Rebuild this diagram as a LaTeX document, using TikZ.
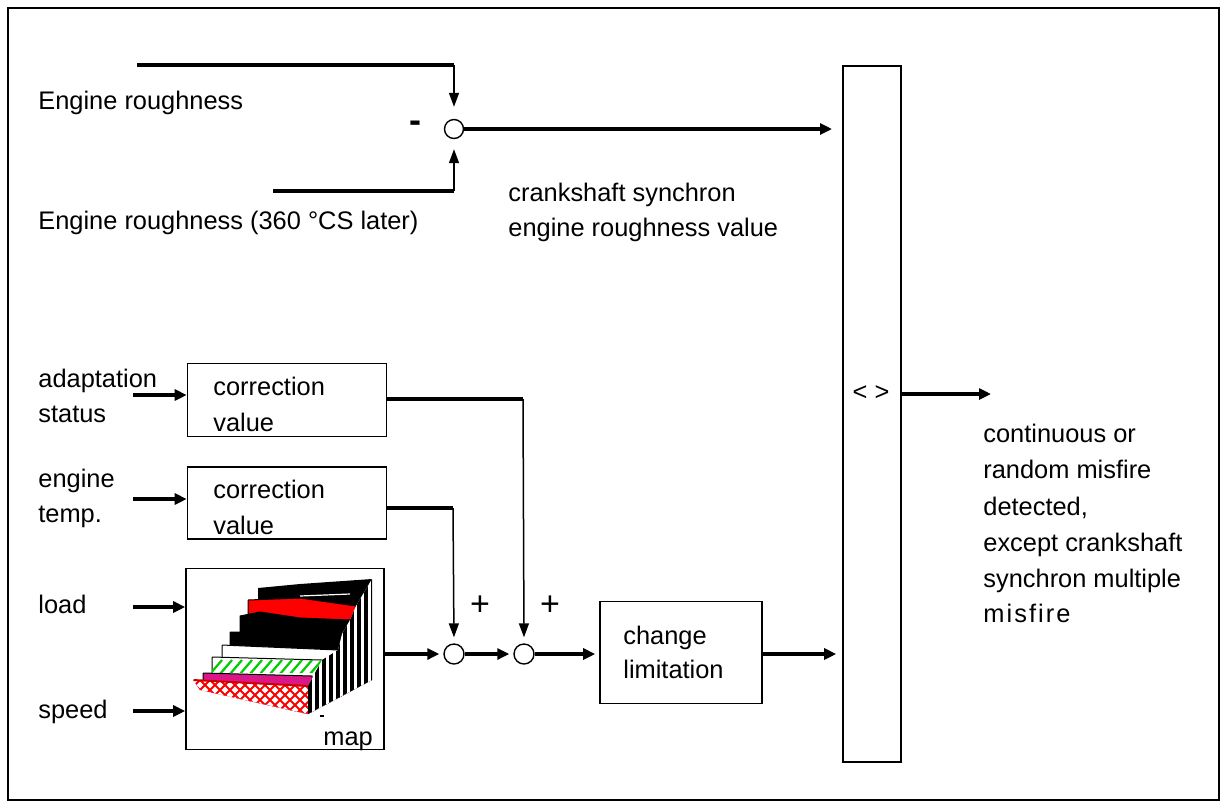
\documentclass[tikz,border=0pt]{standalone}
\usepackage{fontspec}
\setmainfont{Liberation Sans}
\newfontfamily\widefont[LetterSpace=8]{Liberation Sans}
\usetikzlibrary{arrows.meta}
\begin{document}
\begin{tikzpicture}[x=0.5pt,y=-0.5pt,
  txt/.style={anchor=base west,inner sep=0pt,font=\fontsize{12.7}{15}\selectfont},
  ctxt/.style={anchor=base,inner sep=0pt,font=\fontsize{12.7}{15}\selectfont},
  sign/.style={anchor=base,inner sep=0pt,font=\fontsize{17}{20}\selectfont},
  box/.style={draw,line width=0.8pt,inner sep=0pt},
  sumnode/.style={draw,circle,line width=0.7pt,minimum size=9.5pt,inner sep=0pt},
  heavy/.style={line width=2pt},
  light/.style={line width=0.75pt},
  heavyarr/.style={line width=2pt,-{Triangle[length=6pt,width=5.5pt]}},
  lightarr/.style={line width=0.75pt,-{Triangle[length=7pt,width=5pt]}},
  card/.style={draw=black,line width=0.5pt},
]
\useasboundingbox (0,0) rectangle (1230,810);
\draw[line width=0.8pt] (8,8) rectangle (1219,800);

% ---------- top part ----------
\node[sumnode] (s1) at (454,129) {};
\coordinate (ta) at (137,65);
\coordinate (tb) at (454,65);
\coordinate (ba) at (273,191);
\coordinate (bb) at (454,191);
\draw[heavy] (ta) -- (tb);
\draw[heavy] (ba) -- (bb);
\draw[lightarr,shorten >=6pt] (tb) -- (s1.north);
\draw[lightarr,shorten >=5pt] (bb) -- (s1.south);
\node[sign,font=\fontsize{18}{20}\selectfont\bfseries] (minus) at (415,132) {-};
\coordinate (s1out) at (832,129);
\draw[heavyarr] (s1.east) -- (s1out);

\node[txt] (er1) at (38,109) {Engine roughness};
\node[txt] (er2) at (38,229) {Engine roughness (360 °CS later)};
\node[txt] (cs1) at (508,201) {crankshaft synchron};
\node[txt] (cs2) at (508,236) {engine roughness value};

% ---------- comparator ----------
\node[box,minimum width=29pt,minimum height=348pt] (T) at (872,414) {};
\node[ctxt] (cmp) at (871,400) {< >};
\coordinate (tout) at (991,394);
\draw[heavyarr] (T.east |- tout) -- (tout);

\node[txt] (o1) at (983,442) {continuous or};
\node[txt] (o2) at (983,478) {random misfire};
\node[txt] (o3) at (983,515) {detected,};
\node[txt] (o4) at (983,551) {except crankshaft};
\node[txt] (o5) at (983,587) {synchron multiple};
\node[txt,font=\fontsize{12.7}{15}\widefont] (o6) at (983,622) {misfire};

% ---------- correction boxes ----------
\node[box,minimum width=99.5pt,minimum height=36.5pt] (c1) at (287,400) {};
\node[box,minimum width=99.5pt,minimum height=36pt] (c2) at (287,503) {};
\node[txt] (c1a) at (213,395) {correction};
\node[txt] (c1b) at (213,431) {value};
\node[txt] (c2a) at (213,498) {correction};
\node[txt] (c2b) at (213,534) {value};

\node[txt] (in1a) at (38,387) {adaptation};
\node[txt] (in1b) at (38,422) {status};
\node[txt] (in2a) at (38,487) {engine};
\node[txt] (in2b) at (38,522) {temp.};
\node[txt] (in3) at (38,613) {load};
\node[txt] (in4) at (38,718) {speed};

\coordinate (i1) at (133,395);
\coordinate (i2) at (133,499);
\coordinate (i3) at (133,607);
\coordinate (i4) at (133,711);
\draw[heavyarr] (i1) -- (c1.west |- i1);
\draw[heavyarr] (i2) -- (c2.west |- i2);

% ---------- map ----------
\node[box,minimum width=99pt,minimum height=90.5pt] (map) at (285,659) {};
\draw[heavyarr] (i3) -- (map.west |- i3);
\draw[heavyarr] (i4) -- (map.west |- i4);
\node[txt] (maplbl) at (323,745) {map};

\begin{scope}
  \clip (193,680) -- (203,673) -- (212,657) -- (222,645) -- (230,632) -- (240,615)
        -- (248,600) -- (258,588) -- (300,584) -- (372,579) -- (372,680)
        -- (308,714) -- (200,690) -- cycle;
  % cards from back to front
  \fill[black] (258,588) -- (290,584) -- (300,582) -- (372,579) -- (372,720) -- (258,720) -- cycle;
  \draw[white,line width=0.6pt] (300,596) -- (350,594);
  \filldraw[fill=red,card] (248,600) -- (300,598) -- (356,606) -- (356,720) -- (248,720) -- cycle;
  \filldraw[fill=black,card] (240,616) -- (260,612) -- (300,618) -- (350,620) -- (350,720) -- (240,720) -- cycle;
  \filldraw[fill=black,card] (230,632) -- (342,634) -- (342,720) -- (230,720) -- cycle;
  \filldraw[fill=white,card] (222,645) -- (338,650) -- (338,720) -- (222,720) -- cycle;
  \filldraw[fill=white,card] (212,657) -- (322,660) -- (322,720) -- (212,720) -- cycle;
  \begin{scope}
    \clip (212,657) -- (322,660) -- (322,673) -- (212,673) -- cycle;
    \foreach \xs in {200,210,...,330} \draw[green!80!black,line width=1.1pt] (\xs,674) -- ++(12,-14);
  \end{scope}
  \filldraw[fill=magenta!80!violet,card] (203,673) -- (312,676) -- (316,700) -- (316,720) -- (203,720) -- cycle;
  \fill[white] (193,680) -- (308,686) -- (308,714) -- (200,690) -- cycle;
  \begin{scope}
    \clip (193,680) -- (308,686) -- (308,714) -- (200,690) -- cycle;
    \foreach \xs in {150,160,...,320} {
      \draw[red,line width=1pt] (\xs,720) -- ++(40,-40);
      \draw[red,line width=1pt] (\xs,680) -- ++(40,40);
    }
  \end{scope}
  \draw[red!80!black,line width=1pt] (193,680) -- (308,686);
\end{scope}
% right face with vertical stripes
\begin{scope}
  \clip (308,686) -- (322,660) -- (338,650) -- (342,634) -- (350,620) -- (356,606)
        -- (372,579) -- (372,680) -- (308,714) -- cycle;
  \fill[white] (300,570) rectangle (380,720);
  \foreach \xs in {308,315,...,372} \fill[black] (\xs,570) rectangle ++(3.5,150);
\end{scope}
\draw[line width=0.6pt] (320,716) -- (324,716);

% ---------- summing points ----------
\node[sumnode,minimum size=10pt] (s2) at (454,654) {};
\node[sumnode,minimum size=10pt] (s3) at (524,654) {};
\coordinate (k2) at (453,508);
\coordinate (k1) at (523,399);
\draw[heavy] (c2.east |- k2) -- (k2);
\draw[lightarr,shorten >=3pt] (k2) -- (s2.north);
\draw[heavy] (c1.east |- k1) -- (k1);
\draw[lightarr,shorten >=3pt] (k1) -- (s3.north);
\node[sign] (p1) at (480,615) {+};
\node[sign] (p2) at (550,615) {+};

\node[box,minimum width=81pt,minimum height=51pt] (cl) at (681,652.5) {};
\node[txt] (cla) at (623,644) {change};
\node[txt] (clb) at (623,678) {limitation};

\draw[heavyarr,shorten >=2pt] (map.east |- s2) -- (s2.west);
\draw[heavyarr,shorten >=2pt] (s2.east) -- (s3.west);
\draw[heavyarr,shorten >=2pt] (s3.east) -- (cl.west |- s3);
\draw[heavyarr,shorten >=3pt] (cl.east |- s3) -- (T.west |- s3);
\end{tikzpicture}
\end{document}
